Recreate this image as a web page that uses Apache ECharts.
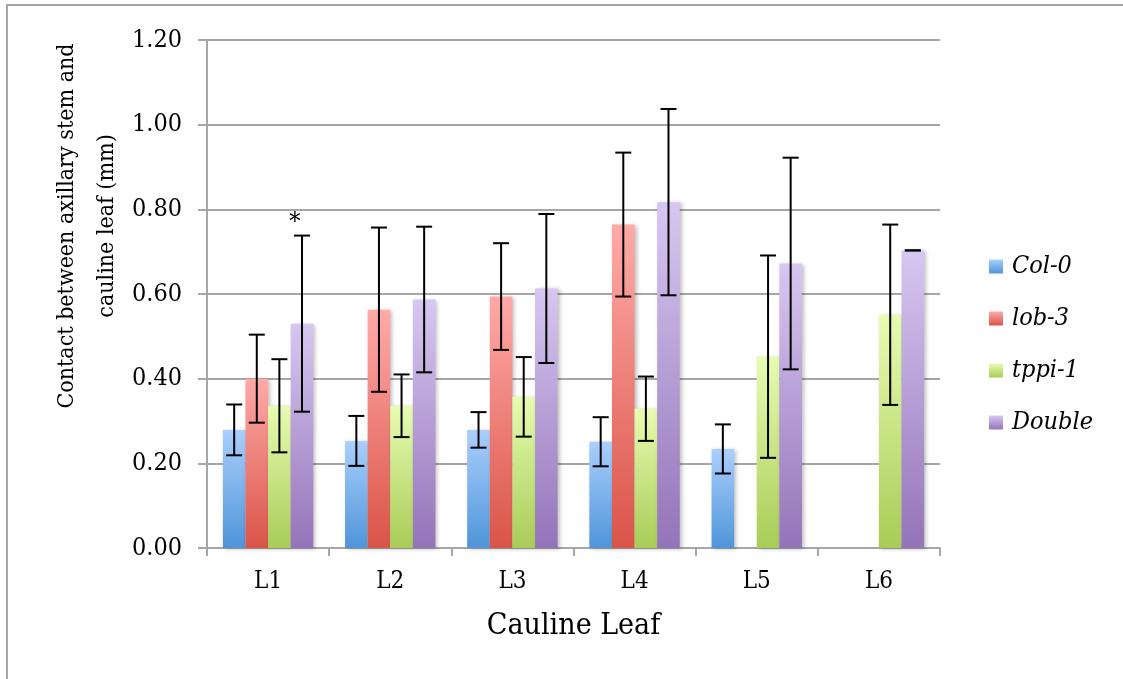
<!DOCTYPE html>
<html>
<head>
<meta charset="utf-8">
<script src="https://cdn.jsdelivr.net/npm/echarts@6/dist/echarts.min.js"></script>
<style>
  html, body { margin: 0; padding: 0; background: #fff; }
  #chart { width: 1123px; height: 679px; }
</style>
</head>
<body>
<div id="chart"></div>
<script>
// cauline leaf positions
var categories = ['L1', 'L2', 'L3', 'L4', 'L5', 'L6'];

// means (mm), null where no bar is drawn
var col0 = [0.279, 0.253, 0.279, 0.251, 0.234, null];
var lob3 = [0.400, 0.563, 0.594, 0.764, null, null];
var tppi1 = [0.336, 0.336, 0.357, 0.329, 0.452, 0.551];
var double = [0.530, 0.587, 0.613, 0.817, 0.672, 0.703];

// error bar half-widths
var col0Err = [0.060, 0.059, 0.042, 0.058, 0.058, null];
var lob3Err = [0.104, 0.194, 0.126, 0.170, null, null];
var tppi1Err = [0.110, 0.074, 0.094, 0.076, 0.239, 0.213];
var doubleErr = [0.208, 0.172, 0.176, 0.220, 0.250, 0.000];

// significance marks over the Double bars
var doubleNotes = ['*', '', '', '', '', ''];

var seriesNames = ['Col-0', 'lob-3', 'tppi-1', 'Double'];
var yTicks = [0, 0.2, 0.4, 0.6, 0.8, 1.0, 1.2];

var SERIF = '"DejaVu Serif Condensed", "Liberation Serif", serif';
var GAP = 0.26;

function grad(top, bottom) {
  return new echarts.graphic.LinearGradient(0, 0, 0, 1, [
    { offset: 0, color: top },
    { offset: 1, color: bottom }
  ]);
}

var colors = [
  grad('#aacffd', '#4f95d9'),
  grad('#ffaaa8', '#da5448'),
  grad('#e7fcb2', '#a9cc57'),
  grad('#d7c7f1', '#9474b9')
];

var means = [col0, lob3, tppi1, double];
var errs = [col0Err, lob3Err, tppi1Err, doubleErr];

// build error bar items: [category, series, low, high]
var errData = [];
var errNotes = [];
for (var s = 0; s < means.length; s++) {
  for (var c = 0; c < categories.length; c++) {
    if (means[s][c] == null) continue;
    errData.push([c, s, means[s][c] - errs[s][c], means[s][c] + errs[s][c]]);
    errNotes.push(s === 3 ? doubleNotes[c] : '');
  }
}

function renderError(params, api) {
  var cat = api.value(0);
  var s = api.value(1);
  var lo = api.coord([cat, api.value(2)]);
  var hi = api.coord([cat, api.value(3)]);
  var catW = api.size([1, 0])[0];
  var groupW = catW * (1 - GAP);
  var barW = groupW / 4;
  var x = lo[0] - groupW / 2 + barW * (s + 0.5);
  var cap = 8;
  var style = { stroke: '#000', lineWidth: 2 };
  var children = [
    { type: 'line', shape: { x1: x, y1: hi[1], x2: x, y2: lo[1] }, style: style },
    { type: 'line', shape: { x1: x - cap, y1: hi[1], x2: x + cap, y2: hi[1] }, style: style },
    { type: 'line', shape: { x1: x - cap, y1: lo[1], x2: x + cap, y2: lo[1] }, style: style }
  ];
  var note = errNotes[params.dataIndex];
  if (note) {
    children.push({
      type: 'text',
      style: {
        text: note, x: x - 7, y: hi[1] - 13,
        align: 'center', verticalAlign: 'middle',
        font: '25px ' + SERIF, fill: '#000'
      }
    });
  }
  return { type: 'group', children: children };
}

var chart = echarts.init(document.getElementById('chart'));

var series = seriesNames.map(function (name, i) {
  return {
    name: name,
    type: 'bar',
    data: means[i],
    barGap: '0%',
    barCategoryGap: (GAP * 100) + '%',
    itemStyle: {
      color: colors[i],
      shadowColor: 'rgba(0,0,0,0.25)',
      shadowBlur: 4,
      shadowOffsetX: 2,
      shadowOffsetY: 1
    }
  };
});

series.push({
  type: 'custom',
  name: 'err',
  renderItem: renderError,
  encode: { x: 0, y: [2, 3] },
  data: errData,
  z: 10,
  silent: true
});

var option = {
  animation: false,
  backgroundColor: '#fff',
  grid: { left: 207, right: 183, top: 40, bottom: 131 },
  legend: {
    data: seriesNames,
    orient: 'vertical',
    left: 989,
    top: 254,
    padding: 0,
    itemWidth: 14,
    itemHeight: 14,
    itemGap: 27,
    icon: 'rect',
    textStyle: {
      fontFamily: SERIF, fontStyle: 'italic', fontSize: 25,
      color: '#000', padding: [0, 0, 0, 4]
    }
  },
  xAxis: {
    type: 'category',
    data: categories,
    name: 'Cauline Leaf',
    nameLocation: 'middle',
    nameGap: 63,
    nameTextStyle: { fontFamily: SERIF, fontSize: 30, color: '#000' },
    axisLine: { lineStyle: { color: '#a6a6a6', width: 2 } },
    axisTick: { show: true, length: 8, lineStyle: { color: '#a6a6a6', width: 2 } },
    axisLabel: { fontFamily: SERIF, fontSize: 24, color: '#000', margin: 22 }
  },
  yAxis: {
    type: 'value',
    min: yTicks[0],
    max: yTicks[yTicks.length - 1],
    interval: 0.2,
    axisLine: { show: true, lineStyle: { color: '#a6a6a6', width: 2 } },
    axisTick: { show: true, length: 9, lineStyle: { color: '#a6a6a6', width: 2 } },
    splitLine: { lineStyle: { color: '#a6a6a6', width: 2 } },
    axisLabel: {
      fontFamily: SERIF, fontSize: 25, color: '#000', margin: 25,
      formatter: function (v) { return v.toFixed(2); }
    }
  },
  graphic: [
    {
      type: 'rect',
      shape: { x: 7, y: 5, width: 1300, height: 900 },
      style: { fill: 'none', stroke: '#a6a6a6', lineWidth: 2 },
      silent: true
    },
    {
      type: 'text',
      x: 87,
      y: 226,
      rotation: Math.PI / 2,
      style: {
        text: 'Contact between axillary stem and\ncauline leaf (mm)',
        align: 'center',
        verticalAlign: 'middle',
        font: '23px ' + SERIF,
        lineHeight: 40,
        fill: '#000'
      }
    }
  ],
  series: series
};

chart.setOption(option);
</script>
</body>
</html>
